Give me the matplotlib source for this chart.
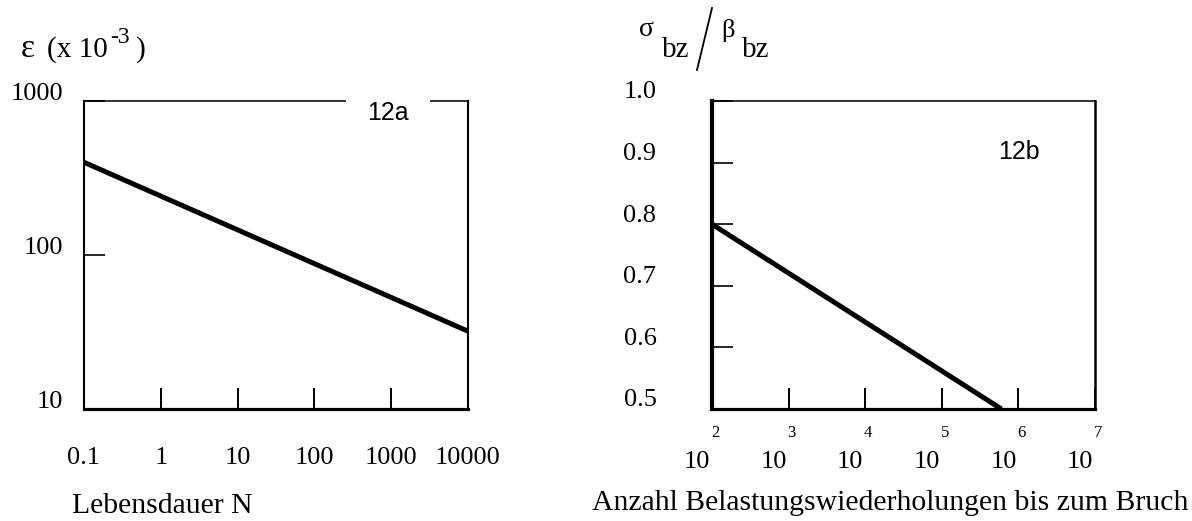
import matplotlib
matplotlib.use("Agg")
import matplotlib.pyplot as plt
import matplotlib.transforms as mtransforms
from matplotlib.lines import Line2D

# left chart: strain vs. life
life_n = [0.1, 10000]
strain = [400, 32]
life_ticks = [0.1, 1, 10, 100, 1000, 10000]
life_labels = ["0.1", "1", "10", "100", "1000", "10000"]
strain_ticks = [10, 100, 1000]
strain_labels = ["10", "100", "1000"]

# right chart: relative stress vs. load cycles
cycles = [100, 6.0e5]
stress_ratio = [0.80, 0.50]
ratio_ticks = [0.5, 0.6, 0.7, 0.8, 0.9, 1.0]
ratio_labels = ["0.5", "0.6", "0.7", "0.8", "0.9", "1.0"]
cycle_exps = [2, 3, 4, 5, 6, 7]

plt.rcParams["font.family"] = ["Liberation Serif", "DejaVu Serif"]

W, H = 1192, 521
fig = plt.figure(figsize=(W / 100, H / 100), dpi=100)


def px(x, y):
    return x / W, 1 - y / H


ax1 = fig.add_axes([84 / W, 1 - 409 / H, 384 / W, 308 / H])
ax2 = fig.add_axes([712 / W, 1 - 409 / H, 383 / W, 308 / H])

# --- left ---
ax1.plot(life_n, strain, color="black", lw=3.6, solid_capstyle="butt")
ax1.set_xscale("log")
ax1.set_yscale("log")
ax1.set_xlim(0.1, 10000)
ax1.set_ylim(10, 1000)
ax1.set_xticks(life_ticks, life_labels)
ax1.set_yticks(strain_ticks, strain_labels)
ax1.minorticks_off()
ax1.tick_params(axis="x", direction="in", length=15, width=1.4, pad=27, labelsize=19)
ax1.tick_params(axis="y", direction="in", length=15, width=1.2, pad=15, labelsize=19)
for side, lw in [("left", 1.5), ("bottom", 2.3), ("top", 1.1), ("right", 1.5)]:
    ax1.spines[side].set_linewidth(lw)

# --- right ---
ax2.plot(cycles, stress_ratio, color="black", lw=3.6, solid_capstyle="butt")
ax2.set_xscale("log")
ax2.set_xlim(10.0 ** cycle_exps[0], 10.0 ** cycle_exps[-1])
ax2.set_ylim(0.5, 1.0)
ax2.set_xticks([10.0 ** e for e in cycle_exps])
ax2.minorticks_off()
ax2.set_yticks(ratio_ticks, ratio_labels)
ax2.tick_params(axis="x", direction="in", length=15, width=1.4, labelbottom=False)
ax2.tick_params(axis="y", direction="in", length=15, width=1.2, pad=40, labelsize=19)
for side, lw in [("left", 3.0), ("bottom", 2.3), ("top", 1.1), ("right", 1.8)]:
    ax2.spines[side].set_linewidth(lw)

for e in cycle_exps:
    ax2.annotate("10", xy=(10.0 ** e, 0), xycoords=("data", "axes fraction"),
                 xytext=(-15, -53), textcoords="offset pixels",
                 ha="center", va="center", fontsize=19, annotation_clip=False)
    ax2.annotate(str(e), xy=(10.0 ** e, 0), xycoords=("data", "axes fraction"),
                 xytext=(3, -24), textcoords="offset pixels",
                 ha="center", va="center", fontsize=12, annotation_clip=False)

# y labels sit a bit above their ticks in the original
for ax, dy in [(ax1, 9), (ax2, 11)]:
    shift = mtransforms.ScaledTranslation(0, dy / 100, fig.dpi_scale_trans)
    for lab in ax.get_yticklabels():
        lab.set_transform(lab.get_transform() + shift)

# axis titles
fig.text(*px(21, 57), "ε", fontsize=24, va="baseline", ha="left")
fig.text(*px(47, 57), "(x 10", fontsize=21, va="baseline", ha="left")
fig.text(*px(110, 43), "-3", fontsize=17, va="baseline", ha="left")
fig.text(*px(136, 57), ")", fontsize=21, va="baseline", ha="left")

fig.text(*px(646, 30), "σ", fontsize=20, va="center", ha="center")
fig.text(*px(662, 50), "bz", fontsize=21, va="center", ha="left")
fig.add_artist(Line2D([px(697, 70)[0], px(712, 8)[0]], [px(697, 70)[1], px(712, 8)[1]],
                      transform=fig.transFigure, color="black", lw=1.3))
fig.text(*px(728, 31), "β", fontsize=19, va="center", ha="center")
fig.text(*px(742, 50), "bz", fontsize=21, va="center", ha="left")

fig.text(*px(72, 506), "Lebensdauer N", fontsize=21.3, va="center", ha="left")
fig.text(*px(592, 503), "Anzahl Belastungswiederholungen bis zum Bruch",
         fontsize=21.4, va="center", ha="left")

fig.text(*px(388, 113), "12a", fontsize=18, family="Liberation Sans",
         ha="center", va="center",
         bbox=dict(facecolor="white", edgecolor="none", boxstyle="square,pad=0.85"))
fig.text(*px(1019, 152), "12b", fontsize=18, family="Liberation Sans",
         ha="center", va="center")

fig.savefig("out.png", dpi=100, facecolor="white")
